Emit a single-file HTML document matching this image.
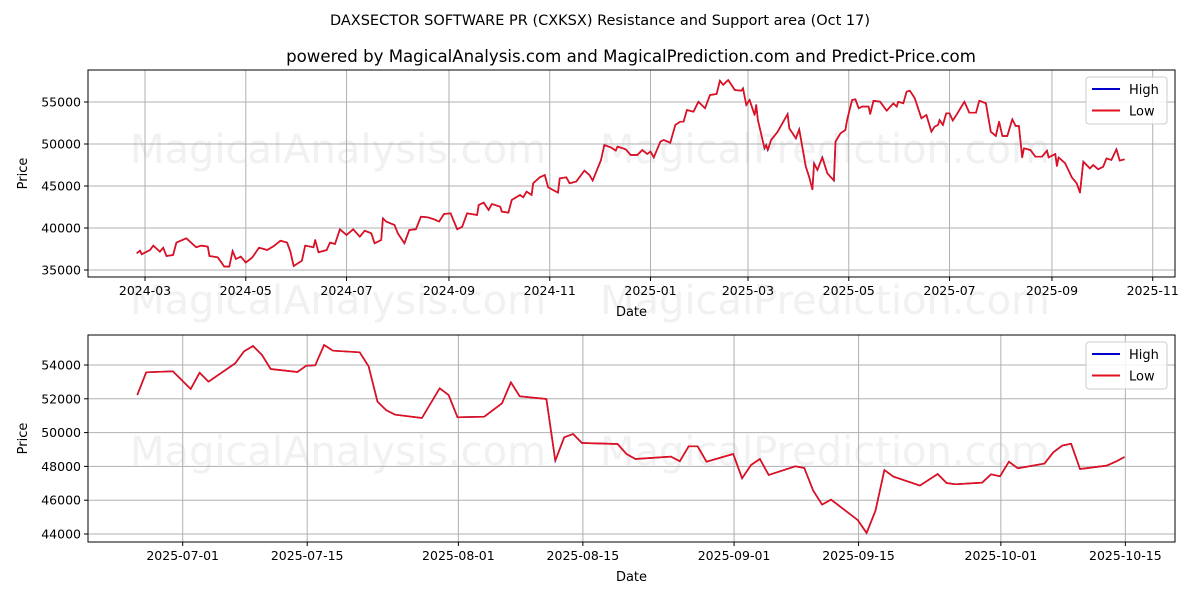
<!DOCTYPE html>
<html><head><meta charset="utf-8">
<style>
body{margin:0;background:#fff;font-family:"DejaVu Sans",sans-serif;}
svg text{font-family:"DejaVu Sans",sans-serif;}
</style></head>
<body>
<svg id="chart" width="1200" height="600" xmlns="http://www.w3.org/2000/svg">
<rect width="1200" height="600" fill="#fff"/>
<text x="600" y="25" text-anchor="middle" font-size="14.5">DAXSECTOR SOFTWARE PR (CXKSX) Resistance and Support area (Oct 17)</text>
<text x="631" y="62" text-anchor="middle" font-size="16.6">powered by MagicalAnalysis.com and MagicalPrediction.com and Predict-Price.com</text>
<g id="top"></g>
<g id="bot"></g>
</svg>
<script>
// Top chart: days since 2024-03-01
const topDays=[-5,-3,-2,3,5,9,11,13,17,19,25,31,34,38,39,44,48,51,53,55,58,61,65,69,74,78,82,86,88,90,95,97,102,103,105,110,112,115,118,122,126,130,133,137,139,143,144,146,151,153,157,160,164,167,171,175,178,181,185,189,192,195,201,202,205,208,210,215,216,220,222,227,229,231,234,235,239,242,244,247,250,251,255,257,261,266,269,271,276,278,282,285,286,291,294,298,301,304,306,308,312,314,318,321,324,326,328,332,335,339,342,346,348,350,353,357,361,362,364,366,369,370,371,375,376,377,379,383,389,390,394,396,400,402,404,405,407,410,413,417,418,421,424,425,428,430,432,434,438,439,441,445,449,453,455,456,459,461,463,466,470,473,476,478,480,481,483,485,487,489,492,496,499,503,505,509,512,515,517,519,522,525,527,529,531,532,536,539,543,546,547,551,552,553,557,561,564,566,568,572,574,577,580,582,585,588,590,593];
const topValues=[36990,37300,36870,37380,37900,37180,37660,36670,36790,38260,38770,37700,37900,37780,36670,36510,35400,35400,37260,36310,36590,35880,36510,37660,37380,37860,38490,38260,37180,35480,36110,37900,37700,38570,37110,37380,38260,38100,39840,39170,39840,38970,39680,39370,38180,38570,41150,40760,40360,39370,38180,39760,39840,41350,41270,41030,40760,41670,41750,39840,40160,41750,41550,42740,43020,42140,42860,42540,41950,41830,43330,43930,43650,44330,43930,45320,46030,46310,44840,44520,44210,45910,46030,45320,45520,46830,46310,45640,48100,49880,49600,49210,49690,49370,48690,48690,49290,48810,49090,48410,50280,50480,50160,52260,52660,52660,54050,53850,55040,54250,55830,55950,57540,57030,57620,56430,56350,56630,54640,55240,53450,54640,52860,49490,49880,49290,50480,51470,53570,51870,50670,51750,47300,46110,44600,47700,46910,48410,46510,45640,50280,51270,51670,52860,55240,55320,54250,54450,54450,53570,55160,55040,53970,54850,54450,55040,54850,56230,56350,55440,53060,53450,51470,52070,52260,52860,52260,53650,53650,52780,53730,55040,53730,53730,55160,54850,51470,50950,52660,50950,50950,52940,52140,52140,48410,49490,49290,48490,48490,49210,48410,48810,47380,48410,47700,46030,45320,44210,47900,47100,47500,46990,47300,48290,48100,49370,48020,48180,48570];
const topXTickDays=[0,61,122,184,245,306,365,426,487,549,610];
const topXTickLabels=["2024-03","2024-05","2024-07","2024-09","2024-11","2025-01","2025-03","2025-05","2025-07","2025-09","2025-11"];
const topYTicks=[35000,40000,45000,50000,55000];
// Bottom chart: days since 2025-07-01
const botDays=[-5,-4,-1,1,2,3,6,7,8,9,10,13,14,15,16,17,20,21,22,23,24,27,29,30,31,34,36,37,38,41,42,43,44,45,49,50,51,55,56,57,58,59,62,63,64,65,66,69,70,71,72,73,76,77,78,79,80,83,85,86,87,90,91,92,93,94,97,98,99,100,101,104,105,106];
const botValues=[52225,53566,53625,52580,53546,53014,54100,54810,55124,54611,53763,53586,53961,53980,55183,54848,54750,53921,51830,51318,51062,50865,52620,52225,50904,50943,51732,52975,52146,51988,48340,49721,49918,49386,49326,48735,48439,48577,48300,49188,49188,48281,48735,47295,48084,48439,47492,48005,47907,46566,45737,46033,44830,44061,45382,47788,47394,46861,47552,47020,46940,47039,47532,47414,48281,47887,48163,48833,49228,49346,47847,48045,48281,48557];
const botXTickDays=[0,14,31,45,62,76,92,106];
const botXTickLabels=["2025-07-01","2025-07-15","2025-08-01","2025-08-15","2025-09-01","2025-09-15","2025-10-01","2025-10-15"];
const botYTicks=[44000,46000,48000,50000,52000,54000];

const NS="http://www.w3.org/2000/svg";
function mk(p,t,a){const e=document.createElementNS(NS,t);for(const k in a)e.setAttribute(k,a[k]);p.appendChild(e);return e;}

function panel(g,o){
  const {L,R,T,B,xs,ys,days,vals,xt,xl,yt,markShift}=o;
  o.wm.forEach(w=>{const t=mk(g,'text',{x:w[0],y:w[1],'font-size':w[3],fill:'#d8d8d8','fill-opacity':0.35});t.textContent=w[2];
    
    });
  xt.forEach((d,i)=>{const x=xs(d);
    const gl=mk(g,'line',{x1:x,x2:x,y1:T,y2:B,stroke:'#b0b0b0','stroke-width':1});
    
    
    mk(g,'line',{x1:x,x2:x,y1:B,y2:B+4,stroke:'#000'});
    const t=mk(g,'text',{x:x,y:B+18,'text-anchor':'middle','font-size':12.5});t.textContent=xl[i];
    
    });
  yt.forEach(v=>{const y=ys(v);
    const gl=mk(g,'line',{x1:L,x2:R,y1:y,y2:y,stroke:'#b0b0b0','stroke-width':1});
    
    
    mk(g,'line',{x1:L-4,x2:L,y1:y,y2:y,stroke:'#000'});
    const t=mk(g,'text',{x:L-7,y:y+4.5,'text-anchor':'end','font-size':12.5});t.textContent=v;
    
    });
  const pts=days.map((d,i)=>xs(d+markShift).toFixed(1)+','+ys(vals[i]).toFixed(1)).join(' ');
  const hi=mk(g,'polyline',{points:pts,fill:'none',stroke:'#0000cc','stroke-width':1.5});
  
  
  const lo=mk(g,'polyline',{points:pts,fill:'none',stroke:'#e0101e','stroke-width':1.7,'stroke-linejoin':'round'});
  
  
  const fr=mk(g,'rect',{x:L,y:T,width:R-L,height:B-T,fill:'none',stroke:'#000','stroke-width':1});
  
  
  const xa=mk(g,'text',{x:(L+R)/2,y:B+39,'text-anchor':'middle','font-size':13});xa.textContent='Date';
  
  
  const cy=(T+B)/2;
  const ya=mk(g,'text',{x:0,y:0,'text-anchor':'middle','font-size':13,transform:`translate(${o.yl},${cy}) rotate(-90)`});ya.textContent='Price';
  
  
  const lg=mk(g,'g',{});
  
  
  mk(lg,'rect',{x:R-89,y:T+7,width:81,height:47,rx:3,fill:'#fff','fill-opacity':0.85,stroke:'#cccccc'});
  [['High','#0000cc'],['Low','#e0101e']].forEach((e,i)=>{const y=T+19+i*21.5;
    const it=mk(lg,'g',{});
    
    
    mk(it,'line',{x1:R-83,x2:R-55,y1:y,y2:y,stroke:e[1],'stroke-width':2});
    const t=mk(it,'text',{x:R-46,y:y+5,'font-size':13});t.textContent=e[0];});
}

panel(document.getElementById('top'),{L:88,R:1175,T:70,B:277,
  xs:d=>145+1.652*d, ys:v=>102+(55000-v)*0.0084,
  days:topDays,vals:topValues,xt:topXTickDays,xl:topXTickLabels,yt:topYTicks,markShift:0,yl:27,
  wm:[[130,163,'MagicalAnalysis.com',40],[600,163,'MagicalPrediction.com',40],[130,314,'MagicalAnalysis.com',40],[600,314,'MagicalPrediction.com',40]]});
panel(document.getElementById('bot'),{L:88,R:1175,T:335,B:542,
  xs:d=>182.7+8.893*d, ys:v=>365+(54000-v)*0.0169,
  days:botDays,vals:botValues,xt:botXTickDays,xl:botXTickLabels,yt:botYTicks,markShift:-0.1,yl:27,
  wm:[[130,465,'MagicalAnalysis.com',40],[600,465,'MagicalPrediction.com',40]]});
</script>
</body></html>
